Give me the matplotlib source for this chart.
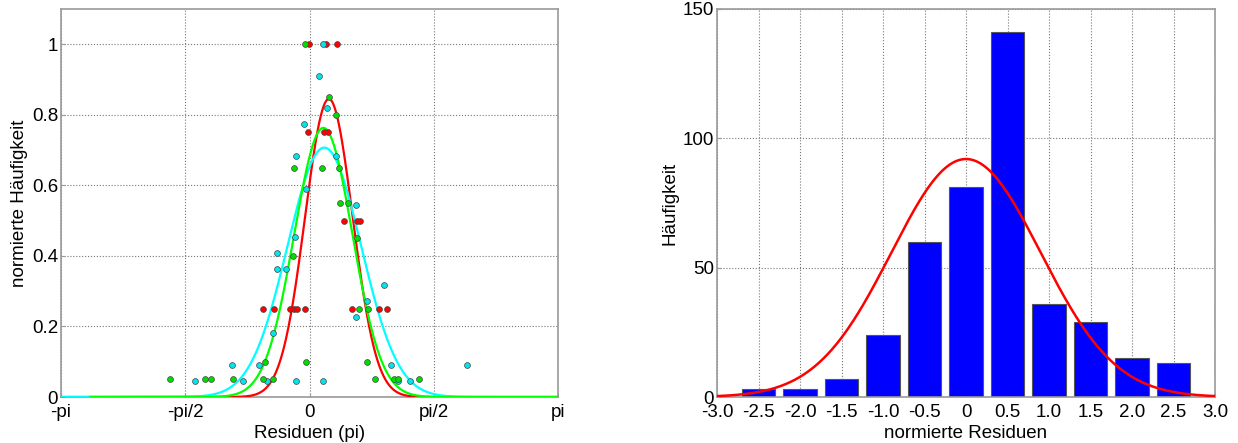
import numpy as np
import matplotlib
matplotlib.use('Agg')
import matplotlib.pyplot as plt

plt.rcParams['font.family'] = ['Liberation Sans', 'DejaVu Sans']

# ---- left plot: normalised residual histograms (three data sets) ----
red_x = [-0.006, 0.209, 0.351, -0.019, 0.187, 0.234, 0.436, 0.597, 0.642,
         -0.592, -0.449, -0.243, -0.196, -0.162, -0.061, 0.541, 0.882, 0.984]
red_y = [1.0, 1.0, 1.0, 0.75, 0.75, 0.75, 0.5, 0.5, 0.5,
         0.25, 0.25, 0.25, 0.25, 0.25, 0.25, 0.25, 0.25, 0.25]

green_x = [-0.057, 0.250, 0.335, -0.196, 0.154, 0.373, 0.382, 0.487, 0.604,
           -0.205, 0.622, 0.736, -0.563, -0.048, 0.727,
           -1.767, -1.325, -1.245, -0.971, -0.584, -0.458, 0.832, 1.064, 1.119, 1.381]
green_y = [1.0, 0.85, 0.8, 0.65, 0.65, 0.65, 0.55, 0.55, 0.45,
           0.4, 0.25, 0.25, 0.1, 0.1, 0.1,
           0.05, 0.05, 0.05, 0.05, 0.05, 0.05, 0.05, 0.05, 0.05, 0.05]

cyan_x = [0.167, 0.120, 0.217, -0.066, -0.167, 0.331, -0.048, 0.588, -0.187,
          -0.407, -0.415, -0.301, 0.942, 0.731, 0.592, -0.458,
          -0.984, -0.638, 1.034, 1.99,
          -1.451, -0.837, -0.537, -0.174, 0.167, 1.115, 1.274]
cyan_y = [1.0, 0.909, 0.818, 0.773, 0.682, 0.682, 0.591, 0.545, 0.455,
          0.409, 0.364, 0.364, 0.318, 0.273, 0.227, 0.182,
          0.091, 0.091, 0.091, 0.091,
          0.045, 0.045, 0.045, 0.045, 0.045, 0.045, 0.045]

# gaussian fits: amplitude, mean, sigma
fit_cyan = (0.707, 0.187, 0.465)
fit_red = (0.845, 0.245, 0.30)
fit_green = (0.763, 0.175, 0.367)

# ---- right plot: histogram of normalised residuals ----
bin_centers = [-2.5, -2.0, -1.5, -1.0, -0.5, 0.0, 0.5, 1.0, 1.5, 2.0, 2.5]
counts = [3, 3, 7, 24, 60, 81, 141, 36, 29, 15, 13]
fit_hist = (92.0, 0.0, 0.9)

right_ticks = [-3.0, -2.5, -2.0, -1.5, -1.0, -0.5, 0.0, 0.5, 1.0, 1.5, 2.0, 2.5, 3.0]
right_ticklabels = ['-3.0', '-2.5', '-2.0', '-1.5', '-1.0', '-0.5', '0',
                    '0.5', '1.0', '1.5', '2.0', '2.5', '3.0']


def gauss(x, p):
    a, mu, s = p
    return a * np.exp(-(x - mu) ** 2 / (2 * s ** 2))


def style_axes(ax):
    for sp in ax.spines.values():
        sp.set_color('#999999')
        sp.set_linewidth(1.2)
    ax.grid(True, linestyle=':', color='#777777', linewidth=0.8)
    ax.set_axisbelow(True)
    ax.tick_params(direction='in', length=3, color='#999999', labelsize=13.5, pad=2)
    ax.tick_params(axis='x', pad=5)


fig = plt.figure(figsize=(12.38, 4.43), dpi=100)
ax1 = fig.add_axes([61 / 1238, 46 / 443, 497 / 1238, 388 / 443])
ax2 = fig.add_axes([717 / 1238, 46 / 443, 498 / 1238, 388 / 443])

# left
xx = np.linspace(-np.pi, np.pi, 600)
ax1.plot(xx, gauss(xx, fit_red), color='#ff0000', lw=1.6, zorder=3)
ax1.plot(xx, gauss(xx, fit_cyan), color='#00ffff', lw=1.6, zorder=3)
xg = np.linspace(-2.77, np.pi, 600)
ax1.plot(xg, gauss(xg, fit_green), color='#00ff00', lw=1.6, zorder=3)

mk = dict(marker='o', linestyle='none', markersize=4.2, markeredgecolor='#444444',
          markeredgewidth=0.5, zorder=4)
ax1.plot(red_x, red_y, markerfacecolor='#ff0000', **mk)
ax1.plot(cyan_x, cyan_y, markerfacecolor='#00e5ee', **mk)
ax1.plot(green_x, green_y, markerfacecolor='#00dd00', **mk)

ax1.set_xlim(-np.pi, np.pi)
ax1.set_ylim(0, 1.1)
ax1.set_xticks([-np.pi, -np.pi / 2, 0, np.pi / 2, np.pi])
ax1.set_xticklabels(['-pi', '-pi/2', '0', 'pi/2', 'pi'])
ax1.set_yticks([0, 0.2, 0.4, 0.6, 0.8, 1.0])
ax1.set_yticklabels(['0', '0.2', '0.4', '0.6', '0.8', '1'])
style_axes(ax1)
ax1.set_xlabel('Residuen (pi)', fontsize=13.5, labelpad=3)
ax1.set_ylabel('normierte Häufigkeit', fontsize=13.5, labelpad=3)

# right
ax2.bar(bin_centers, counts, width=0.4, color='#0000ff', edgecolor='#555555',
        linewidth=0.8, zorder=2)
xr = np.linspace(-3, 3, 600)
ax2.plot(xr, gauss(xr, fit_hist), color='#ff0000', lw=1.8, zorder=3)
ax2.set_xlim(-3, 3)
ax2.set_ylim(0, 150)
ax2.set_xticks(right_ticks)
ax2.set_xticklabels(right_ticklabels)
ax2.set_yticks([0, 50, 100, 150])
style_axes(ax2)
ax2.set_xlabel('normierte Residuen', fontsize=13.5, labelpad=3)
ax2.set_ylabel('Häufigkeit', fontsize=13.5, labelpad=3)

plt.savefig('out.png', dpi=100)
